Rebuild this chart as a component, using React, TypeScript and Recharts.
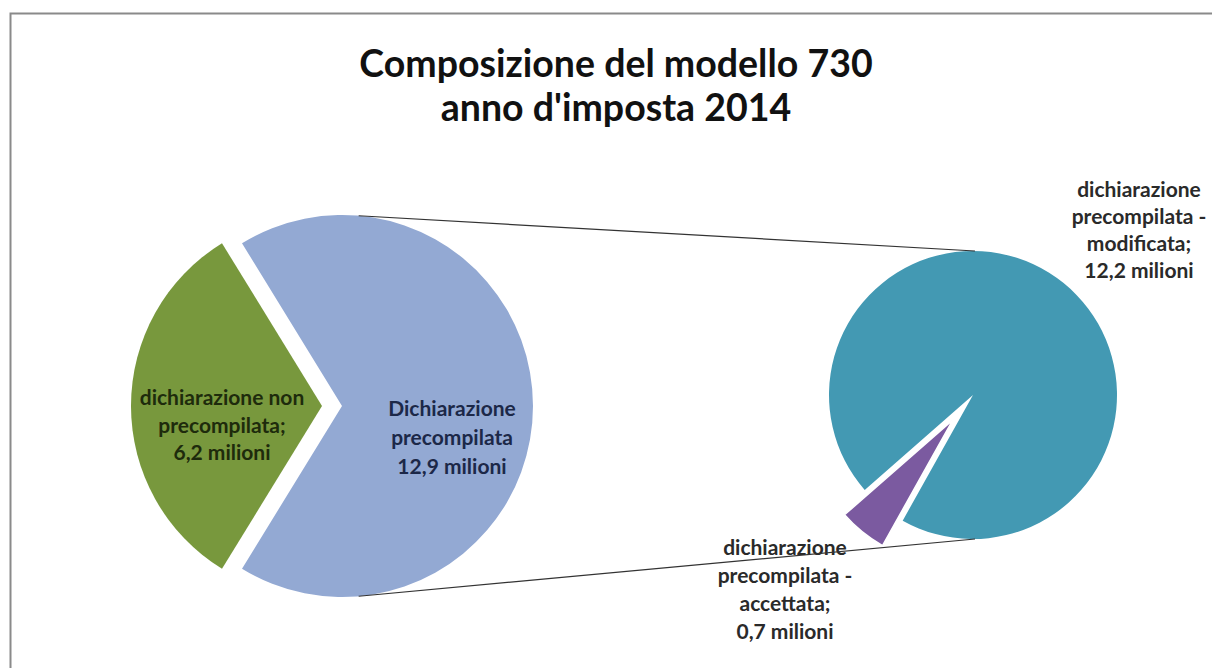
import { PieChart, Pie, Cell } from 'recharts'

// ─── Data ─────────────────────────────────────────────────────────────────────

const TITLE_LINES = ['Composizione del modello 730', "anno d'imposta 2014"]

// first pie: total 730 returns, millions
const mainNames = ['dichiarazione non precompilata', 'Dichiarazione precompilata']
const mainValues = [6.2, 12.9]
const mainLabels = [
  ['dichiarazione non', 'precompilata;', '6,2 milioni'],
  ['Dichiarazione', 'precompilata', '12,9 milioni'],
]

// second pie: breakdown of the pre-filled returns, millions
const subNames = ['dichiarazione precompilata - accettata', 'dichiarazione precompilata - modificata']
const subValues = [0.7, 12.2]
const subLabels = [
  ['dichiarazione', 'precompilata -', 'accettata;', '0,7 milioni'],
  ['dichiarazione', 'precompilata -', 'modificata;', '12,2 milioni'],
]

// ─── Look ─────────────────────────────────────────────────────────────────────

const W = 1212
const H = 668
const FONT = 'Lato, "Open Sans", sans-serif'

const MAIN_COLORS = ['#78983d', '#93a9d3']
const MAIN_TEXT = ['#1e2b0c', '#1c2848']
const SUB_COLORS = ['#7b5aa0', '#4399b3']
const SUB_TEXT = '#2a2a2a'

const L = { cx: 342, cy: 406, r: 191, explode: 20 }
const R = { cx: 973, cy: 395, r: 144, explode: 32 }

// slice 0 of each pie is centered on these angles (degrees, counter-clockwise)
const MAIN_MID = 180
const SUB_MID = 231

const mainSpan = (mainValues[0] / (mainValues[0] + mainValues[1])) * 360
const subSpan = (subValues[0] / (subValues[0] + subValues[1])) * 360
const mainStart = MAIN_MID - mainSpan / 2
const subStart = SUB_MID - subSpan / 2

const mainData = mainNames.map((name, i) => ({ name, value: mainValues[i] }))
const subData = subNames.map((name, i) => ({ name, value: subValues[i] }))

const rad = (a: number) => (a * Math.PI) / 180
const shift = (cx: number, cy: number, angle: number, d: number) => ({
  x: cx + Math.cos(rad(angle)) * d,
  y: cy - Math.sin(rad(angle)) * d,
})

const greenC = shift(L.cx, L.cy, MAIN_MID, L.explode)
const purpleC = shift(R.cx, R.cy, SUB_MID, R.explode)

// label anchors (centre x, first baseline y, line height)
const LABEL_SIZE = 21
const MAIN_LABEL_POS = [
  { x: 222, y: 405, lh: 27.5 },
  { x: 452, y: 416, lh: 29 },
]
const SUB_LABEL_POS = [
  { x: 785, y: 555, lh: 28 },
  { x: 1139, y: 197, lh: 27 },
]

function MultiLine({ x, y, lines, fill, lh }: {
  x: number; y: number; lines: string[]; fill: string; lh: number
}) {
  return (
    <text x={x} y={y} textAnchor="middle" fontFamily={FONT} fontWeight={700} fontSize={LABEL_SIZE} fill={fill}>
      {lines.map((l, i) => (
        <tspan key={i} x={x} dy={i === 0 ? 0 : lh}>{l}</tspan>
      ))}
    </text>
  )
}

export default function App() {
  const topL = shift(L.cx, L.cy, 85, L.r)
  const botL = shift(L.cx, L.cy, -85, L.r)
  return (
    <div style={{ position: 'absolute', left: 0, top: 0, width: W, height: H, background: '#fff', overflow: 'hidden' }}>
      <svg width={W} height={H} style={{ position: 'absolute', left: 0, top: 0 }}>
        <path d={`M10.5 ${H} V13.5 H${W}`} fill="none" stroke="#8a8a8a" strokeWidth={2} />
        {TITLE_LINES.map((t, i) => (
          <text key={t} x={616} y={77 + i * 44} textAnchor="middle" fontFamily={FONT} fontWeight={700} fontSize={37.5} fill="#111">
            {t}
          </text>
        ))}
      </svg>
      <div style={{ position: 'absolute', left: 0, top: 0 }}>
        <PieChart width={W} height={H} margin={{ top: 0, right: 0, bottom: 0, left: 0 }}>
          {/* first pie: blue slice in place */}
          <Pie
            data={mainData}
            dataKey="value"
            nameKey="name"
            cx={L.cx}
            cy={L.cy}
            outerRadius={L.r}
            startAngle={mainStart}
            endAngle={mainStart + 360}
            stroke="none"
            labelLine={false}
            isAnimationActive={false}
            label={(p: any) =>
              p.index === 1 ? (
                <MultiLine {...MAIN_LABEL_POS[1]} lines={mainLabels[1]} fill={MAIN_TEXT[1]} />
              ) : null
            }
          >
            {mainData.map((d, i) => (
              <Cell key={d.name} fill={i === 1 ? MAIN_COLORS[1] : 'transparent'} />
            ))}
          </Pie>
          {/* first pie: green slice pulled out */}
          <Pie
            data={mainData}
            dataKey="value"
            nameKey="name"
            cx={greenC.x}
            cy={greenC.y}
            outerRadius={L.r}
            startAngle={mainStart}
            endAngle={mainStart + 360}
            stroke="none"
            labelLine={false}
            isAnimationActive={false}
            label={(p: any) =>
              p.index === 0 ? (
                <MultiLine {...MAIN_LABEL_POS[0]} lines={mainLabels[0]} fill={MAIN_TEXT[0]} />
              ) : null
            }
          >
            {mainData.map((d, i) => (
              <Cell key={d.name} fill={i === 0 ? MAIN_COLORS[0] : 'transparent'} />
            ))}
          </Pie>
          {/* second pie: teal slice in place */}
          <Pie
            data={subData}
            dataKey="value"
            nameKey="name"
            cx={R.cx}
            cy={R.cy}
            outerRadius={R.r}
            startAngle={subStart}
            endAngle={subStart + 360}
            stroke="none"
            labelLine={false}
            isAnimationActive={false}
            label={(p: any) =>
              p.index === 1 ? (
                <MultiLine {...SUB_LABEL_POS[1]} lines={subLabels[1]} fill={SUB_TEXT} />
              ) : null
            }
          >
            {subData.map((d, i) => (
              <Cell key={d.name} fill={i === 1 ? SUB_COLORS[1] : 'transparent'} />
            ))}
          </Pie>
          {/* second pie: purple slice pulled out */}
          <Pie
            data={subData}
            dataKey="value"
            nameKey="name"
            cx={purpleC.x}
            cy={purpleC.y}
            outerRadius={R.r}
            startAngle={subStart}
            endAngle={subStart + 360}
            labelLine={false}
            isAnimationActive={false}
            label={(p: any) =>
              p.index === 0 ? (
                <MultiLine {...SUB_LABEL_POS[0]} lines={subLabels[0]} fill={SUB_TEXT} />
              ) : null
            }
          >
            {subData.map((d, i) => (
              <Cell
                key={d.name}
                fill={i === 0 ? SUB_COLORS[0] : 'transparent'}
                stroke={i === 0 ? '#ffffff' : 'none'}
                strokeWidth={1.5}
              />
            ))}
          </Pie>
        </PieChart>
      </div>
      <svg width={W} height={H} style={{ position: 'absolute', left: 0, top: 0, pointerEvents: 'none' }}>
        <line x1={topL.x} y1={topL.y} x2={R.cx + 2} y2={R.cy - R.r} stroke="#333" strokeWidth={1.2} />
        <line x1={botL.x} y1={botL.y} x2={R.cx + 2} y2={R.cy + R.r} stroke="#333" strokeWidth={1.2} />
      </svg>
    </div>
  )
}
